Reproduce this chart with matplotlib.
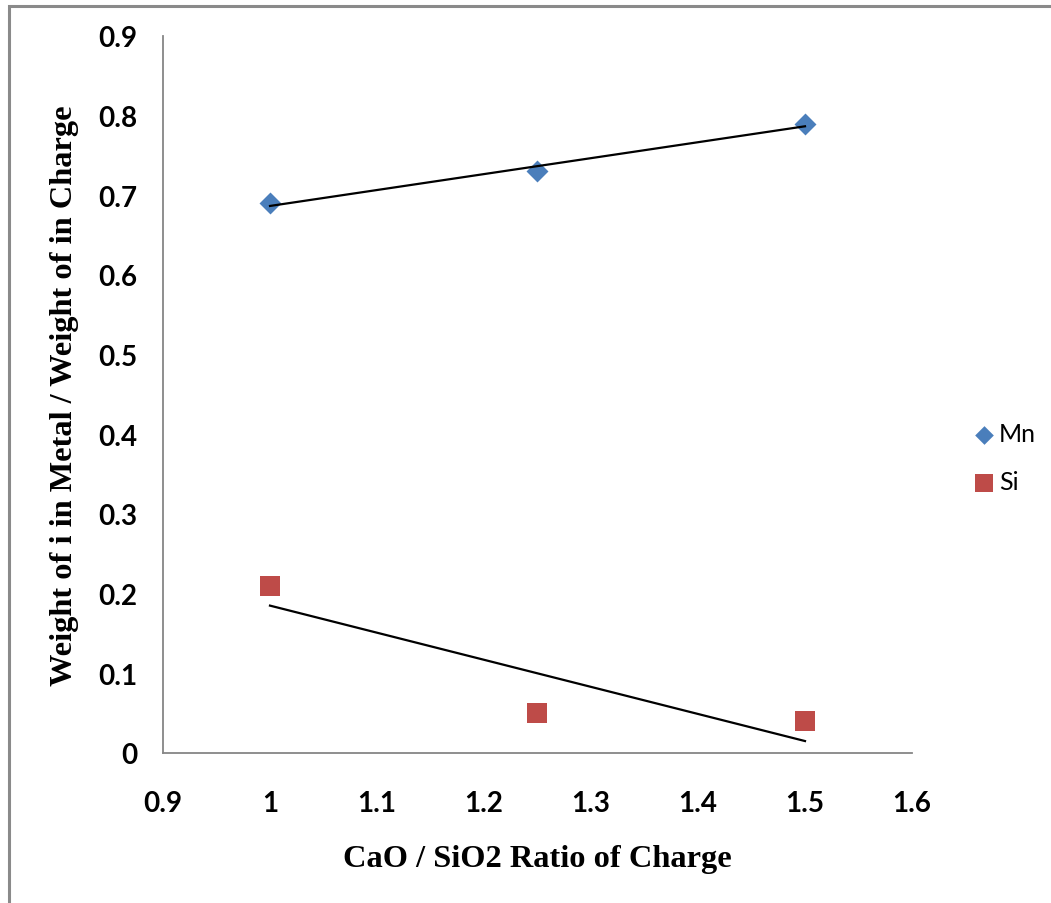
import numpy as np
import matplotlib
matplotlib.use("Agg")
import matplotlib.pyplot as plt
from matplotlib.patches import Rectangle

# CaO / SiO2 ratio of the charge
ratio = [1.0, 1.25, 1.5]
# recovery of each element into the metal
mn_recovery = [0.69, 0.73, 0.79]
si_recovery = [0.21, 0.05, 0.04]

x_ticks = [0.9, 1.0, 1.1, 1.2, 1.3, 1.4, 1.5, 1.6]
x_tick_labels = ["0.9", "1", "1.1", "1.2", "1.3", "1.4", "1.5", "1.6"]
y_ticks = [0.0, 0.1, 0.2, 0.3, 0.4, 0.5, 0.6, 0.7, 0.8, 0.9]
y_tick_labels = ["0", "0.1", "0.2", "0.3", "0.4", "0.5", "0.6", "0.7", "0.8", "0.9"]

W, H = 1051, 904
fig = plt.figure(figsize=(W / 100, H / 100), dpi=100)
fig.patch.set_facecolor("white")

# outer frame of the chart
fig.patches.append(Rectangle((8.5 / W, -0.05), 1.2, (H - 6.5) / H + 0.05,
                             transform=fig.transFigure, fill=False,
                             edgecolor="#8a8a8a", linewidth=2.2))

ax = fig.add_axes([163 / W, (H - 754) / H, (912 - 163) / W, (754 - 37) / H])
ax.set_xlim(0.9, 1.6)
ax.set_ylim(0.0, 0.9)

mn_c = "#4a7ebb"
si_c = "#be4b48"

ax.scatter(ratio, mn_recovery, marker="D", s=125, color=mn_c, label="Mn", zorder=3,
           linewidths=0)
ax.scatter(ratio, si_recovery, marker="s", s=210, color=si_c, label="Si", zorder=3,
           linewidths=0)

# linear trend lines
xr = np.array([ratio[0], ratio[-1]])
for series in (mn_recovery, si_recovery):
    k, b = np.polyfit(ratio, series, 1)
    ax.plot(xr, k * xr + b, color="black", linewidth=1.6, zorder=4)

for side in ("top", "right"):
    ax.spines[side].set_visible(False)
for side in ("left", "bottom"):
    ax.spines[side].set_color("#868686")
    ax.spines[side].set_linewidth(1.3)

tick_font = dict(family="Lato", weight="bold", size=20)
ax.set_xticks(x_ticks)
ax.set_xticklabels(x_tick_labels, fontdict=tick_font)
ax.set_yticks(y_ticks)
ax.set_yticklabels(y_tick_labels, fontdict=tick_font)
ax.tick_params(axis="both", length=0)
ax.tick_params(axis="x", pad=27)
ax.tick_params(axis="y", pad=18.5)

title_font = dict(family="Liberation Serif", weight="bold", size=23.3)
ax.set_xlabel("CaO / SiO2 Ratio of Charge", fontdict=title_font, labelpad=20)
ax.set_ylabel("Weight of i in Metal / Weight of in Charge", fontdict=title_font, labelpad=14)

leg = ax.legend(loc="center left", bbox_to_anchor=(1.05, 0.412), frameon=False,
                prop=dict(family="Lato", size=18), handletextpad=-0.42,
                labelspacing=1.0, markerscale=0.85, borderaxespad=0)

fig.savefig("out.png", dpi=100, facecolor="white")
